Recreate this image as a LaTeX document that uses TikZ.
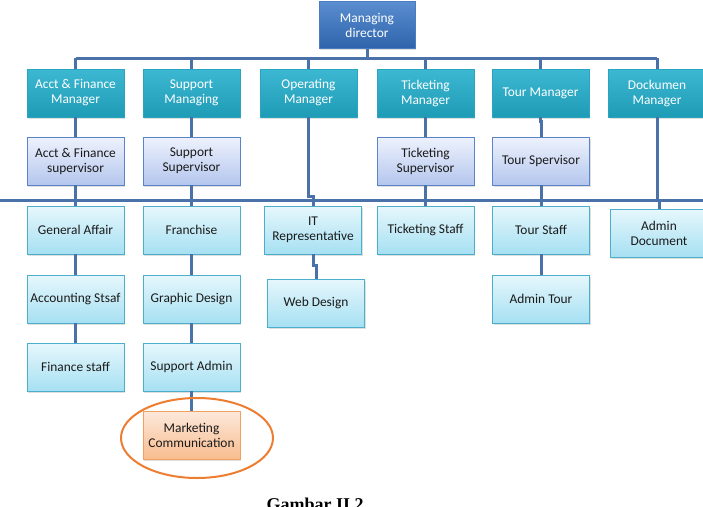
\documentclass[tikz,border=0pt]{standalone}
\usepackage{fontspec}
\setmainfont{Carlito}
\newfontfamily\capfont{Liberation Serif}
\usetikzlibrary{shadows}
\definecolor{lineblue}{HTML}{4A72A8}
\definecolor{mdtop}{HTML}{5A8ED0}
\definecolor{mdbot}{HTML}{2F63AB}
\definecolor{mddraw}{HTML}{4A7CC0}
\definecolor{mgtop}{HTML}{3DB8D2}
\definecolor{mgbot}{HTML}{1E9BB5}
\definecolor{mgdraw}{HTML}{2AA5C0}
\definecolor{sutop}{HTML}{EEF2FC}
\definecolor{subot}{HTML}{B4C6EE}
\definecolor{sudraw}{HTML}{5B84C8}
\definecolor{sttop}{HTML}{E6F7FC}
\definecolor{stbot}{HTML}{A6E0F2}
\definecolor{stdraw}{HTML}{4BAFCB}
\definecolor{mctop}{HTML}{FCE9DC}
\definecolor{mcbot}{HTML}{F8BC8E}
\definecolor{mcdraw}{HTML}{F0A060}
\definecolor{ellc}{HTML}{ED7D31}
\definecolor{txt}{HTML}{1A1A1A}
\begin{document}
\begin{tikzpicture}[x=1pt,y=-1pt,
  box/.style={rectangle, minimum width=97pt, minimum height=48pt, inner sep=1pt,
    align=center, font=\fontsize{13.4}{15}\selectfont, line width=0.8pt,
    drop shadow={shadow xshift=1pt, shadow yshift=-1.5pt, opacity=0.25}},
  mdbox/.style={box, minimum width=96pt, minimum height=47pt, draw=mddraw, top color=mdtop, bottom color=mdbot, text=white},
  mgbox/.style={box, draw=mgdraw, top color=mgtop, bottom color=mgbot, text=white},
  subox/.style={box, draw=sudraw, top color=sutop, bottom color=subot, text=txt},
  stbox/.style={box, draw=stdraw, top color=sttop, bottom color=stbot, text=txt},
  mcbox/.style={box, draw=mcdraw, top color=mctop, bottom color=mcbot, text=txt},
  conn/.style={draw=lineblue, line width=3pt}
]
\useasboundingbox (0,0) rectangle (703,506);
\clip (0,0) rectangle (703,506);

% nodes
\node[mdbox] (md) at (367,25) {Managing\\director};
\node[mgbox] (am) at (75.5,93) {Acct \& Finance\\Manager};
\node[mgbox] (sm) at (191.5,93) {Support\\Managing};
\node[mgbox] (om) at (308.5,93) {Operating\\Manager};
\node[mgbox] (tm) at (425.5,93) {Ticketing\\Manager};
\node[mgbox] (trm) at (540.5,93) {Tour Manager};
\node[mgbox] (dm) at (657,93) {Dockumen\\Manager};

\node[subox] (as) at (75.5,161) {Acct \& Finance\\supervisor};
\node[subox] (ss) at (191.5,161) {Support\\Supervisor};
\node[subox] (ts) at (425.5,161) {Ticketing\\Supervisor};
\node[subox] (trs) at (541,161) {Tour Spervisor};

\node[stbox] (ga) at (75.5,230) {General Affair};
\node[stbox] (fr) at (191.5,230) {Franchise};
\node[stbox] (it) at (313,230) {IT\\Representative};
\node[stbox] (tst) at (425.5,230) {Ticketing Staff};
\node[stbox] (tos) at (541,230) {Tour Staff};
\node[stbox] (ad) at (659,233) {Admin\\Document};

\node[stbox] (ac) at (75.5,299) {Accounting Stsaf};
\node[stbox] (gd) at (191.5,299) {Graphic Design};
\node[stbox] (wd) at (316,303) {Web Design};
\node[stbox] (at) at (541,299) {Admin Tour};

\node[stbox] (fs) at (75.5,367) {Finance staff};
\node[stbox] (sa) at (191.5,367) {Support Admin};

\node[mcbox] (mc) at (191.5,435) {Marketing\\Communication};

% connectors
\coordinate (h1) at (0,58);
\coordinate (bl) at (0,200);
\coordinate (br) at (703,200);
\draw[conn] (md.south) -- (md.south |- h1);
\draw[conn] (am.north |- h1) -- (dm.north |- h1);
\foreach \n in {am,sm,om,tm,trm,dm} \draw[conn] (\n.north) -- (\n.north |- h1);
\draw[conn] (bl) -- (br);
\draw[conn] (am.south) -- (as.north);
\draw[conn] (sm.south) -- (ss.north);
\draw[conn] (tm.south) -- (ts.north);
\draw[conn] (trm.south) -- ++(0,4) -| (trs.north);
\draw[conn] (om.south) -- ++(0,79) -| (it.north);
\draw[conn] (dm.south) -- (dm.south |- bl) -| (ad.north);
\draw[conn] (as.south) -- (ga.north);
\draw[conn] (ss.south) -- (fr.north);
\draw[conn] (ts.south) -- (tst.north);
\draw[conn] (trs.south) -- (tos.north);
\draw[conn] (ga.south) -- (ac.north);
\draw[conn] (ac.south) -- (fs.north);
\draw[conn] (fr.south) -- (gd.north);
\draw[conn] (gd.south) -- (sa.north);
\draw[conn] (sa.south) -- (mc.north);
\draw[conn] (it.south) -- ++(0,11) -| (wd.north);
\draw[conn] (tos.south) -- (at.north);

% highlight ellipse
\draw[ellc, line width=2pt] (197,438) ellipse [x radius=76, y radius=40];

% caption
\node[font=\capfont\bfseries\fontsize{18}{20}\selectfont, anchor=base, inner sep=0pt] (cap) at (315,510) {Gambar II.2};
\end{tikzpicture}
\end{document}
